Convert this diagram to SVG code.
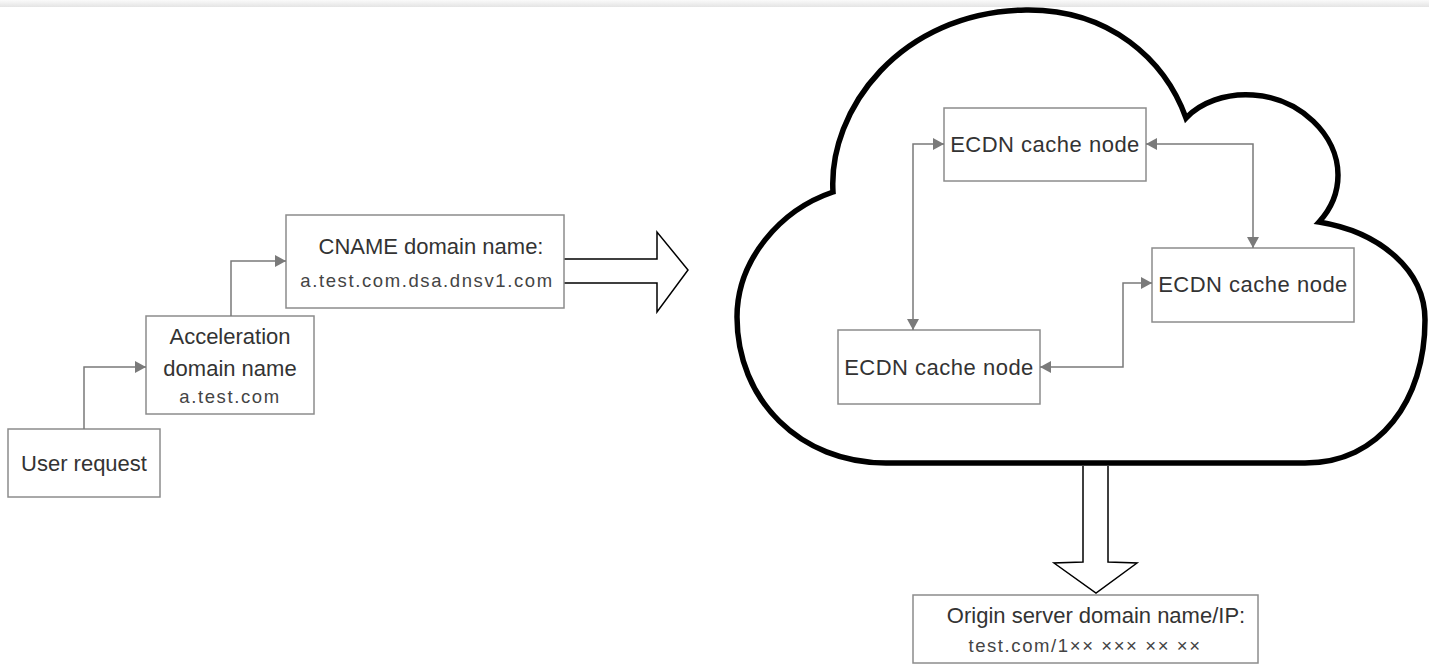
<svg xmlns="http://www.w3.org/2000/svg" width="1429" height="664" viewBox="0 0 1429 664">
<defs>
<linearGradient id="topbar" x1="0" y1="0" x2="0" y2="1">
<stop offset="0" stop-color="#fafafa"/>
<stop offset="1" stop-color="#e4e4e4"/>
</linearGradient>
<marker id="arr" markerUnits="userSpaceOnUse" markerWidth="11" markerHeight="12" refX="11" refY="6" orient="auto-start-reverse" viewBox="0 0 11 12">
<path d="M0,0 L11,6 L0,12 z" fill="#7a7a7a"/>
</marker>
<style>
.box{fill:#fff;stroke:#8c8c8c;stroke-width:1.5}
.t{font-family:"Liberation Sans",Arial,Helvetica,sans-serif;font-size:22px;fill:#333;text-anchor:middle}
.e{letter-spacing:0.5px}
.s{font-family:"Liberation Sans",Arial,Helvetica,sans-serif;font-size:18.5px;fill:#444;text-anchor:middle;letter-spacing:1.6px}
.conn{fill:none;stroke:#7a7a7a;stroke-width:1.5}
.big{fill:#fff;stroke:#000;stroke-width:1.5}
</style>
</defs>
<rect x="0" y="0" width="1429" height="7" fill="url(#topbar)"/>

<g id="cloud">
<path d="M833,192 C828,110 900,12 1026,10 C1110,9 1165,60 1186,118 C1200,103 1225,93 1253,95 C1300,98 1338,135 1338,175 C1338,195 1330,210 1319,222 C1380,232 1425,270 1425,320 C1425,400 1380,463 1305,463 L886,463 C800,463 737,400 737,317 C737,260 780,210 833,192 Z" fill="#fff" stroke="#000" stroke-width="5.5" stroke-linejoin="miter"/>
</g>

<g id="bigarrows">
<path class="big" d="M564,259 L657,259 L657,232 L688,270 L657,312 L657,283 L564,283"/>
<path class="big" d="M1083,466 L1083,562 L1054,563 L1096,593 L1137,563 L1108,562 L1108,466"/>
</g>

<g id="user-request">
<rect class="box" x="8" y="429" width="152" height="68"/>
<text class="t" x="84" y="471">User request</text>
</g>

<g id="acceleration">
<rect class="box" x="146" y="316" width="168" height="98"/>
<text class="t" x="230" y="344">Acceleration</text>
<text class="t" x="230" y="376">domain name</text>
<text class="s" x="230" y="403">a.test.com</text>
</g>

<g id="cname">
<rect class="box" x="286" y="215" width="278" height="93"/>
<text class="t" x="431" y="254">CNAME domain name:</text>
<text class="s" x="427" y="287">a.test.com.dsa.dnsv1.com</text>
</g>

<g id="ecdn-top">
<rect class="box" x="944" y="108" width="202" height="73"/>
<text class="t e" x="1045" y="152">ECDN cache node</text>
</g>

<g id="ecdn-left">
<rect class="box" x="838" y="330" width="202" height="74"/>
<text class="t e" x="939" y="375">ECDN cache node</text>
</g>

<g id="ecdn-right">
<rect class="box" x="1152" y="248" width="202" height="74"/>
<text class="t e" x="1253" y="292">ECDN cache node</text>
</g>

<g id="origin">
<rect class="box" x="913" y="595" width="345" height="68"/>
<text class="t" x="1096" y="623">Origin server domain name/IP:</text>
<text class="s" x="1085" y="652">test.com/1×× ××× ×× ××</text>
</g>

<g id="connectors">
<path class="conn" d="M84,429 V367 H146" marker-end="url(#arr)"/>
<path class="conn" d="M231,316 V261 H286" marker-end="url(#arr)"/>
<path class="conn" d="M944,144 H913 V330" marker-start="url(#arr)" marker-end="url(#arr)"/>
<path class="conn" d="M1146,144 H1253 V248" marker-start="url(#arr)" marker-end="url(#arr)"/>
<path class="conn" d="M1040,367 H1123 V283 H1152" marker-start="url(#arr)" marker-end="url(#arr)"/>
</g>
</svg>
